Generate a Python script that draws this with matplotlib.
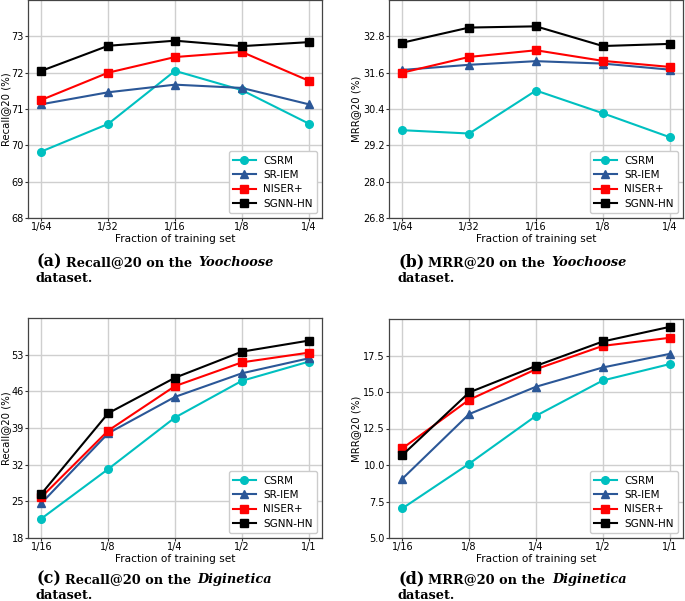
import matplotlib
matplotlib.use("Agg")
import matplotlib.pyplot as plt
import numpy as np

# ---- data ----
series_names = ["CSRM", "SR-IEM", "NISER+", "SGNN-HN"]
x_yoo = ["1/64", "1/32", "1/16", "1/8", "1/4"]
x_dig = ["1/16", "1/8", "1/4", "1/2", "1/1"]

yoo_recall = {
    "CSRM":    [69.83, 70.59, 72.05, 71.52, 70.60],
    "SR-IEM":  [71.13, 71.46, 71.67, 71.58, 71.13],
    "NISER+":  [71.25, 72.00, 72.43, 72.57, 71.78],
    "SGNN-HN": [72.05, 72.74, 72.88, 72.73, 72.84],
}
yoo_mrr = {
    "CSRM":    [29.70, 29.59, 31.01, 30.26, 29.47],
    "SR-IEM":  [31.69, 31.86, 31.98, 31.90, 31.70],
    "NISER+":  [31.60, 32.12, 32.34, 31.99, 31.79],
    "SGNN-HN": [32.59, 33.09, 33.13, 32.48, 32.55],
}
dig_recall = {
    "CSRM":    [21.70, 31.16, 41.00, 48.00, 51.66],
    "SR-IEM":  [24.64, 37.99, 44.94, 49.44, 52.30],
    "NISER+":  [25.80, 38.50, 47.00, 51.53, 53.38],
    "SGNN-HN": [26.43, 41.82, 48.60, 53.57, 55.68],
}
dig_mrr = {
    "CSRM":    [7.03, 10.09, 13.37, 15.79, 16.91],
    "SR-IEM":  [9.06, 13.49, 15.36, 16.68, 17.61],
    "NISER+":  [11.14, 14.47, 16.56, 18.16, 18.71],
    "SGNN-HN": [10.68, 14.97, 16.79, 18.46, 19.46],
}

yticks_a = [68, 69, 70, 71, 72, 73]
yticks_b = [26.8, 28.0, 29.2, 30.4, 31.6, 32.8]
yticks_c = [18, 25, 32, 39, 46, 53]
yticks_d = [5.0, 7.5, 10.0, 12.5, 15.0, 17.5]

styles = {
    "CSRM":    dict(color="#00c0c0", marker="o"),
    "SR-IEM":  dict(color="#2b5797", marker="^"),
    "NISER+":  dict(color="#ff0000", marker="s"),
    "SGNN-HN": dict(color="#000000", marker="s"),
}

W, H = 685, 601
fig = plt.figure(figsize=(W / 100, H / 100), dpi=100)

def px_axes(l, t, r, b):
    return fig.add_axes([l / W, 1 - b / H, (r - l) / W, (b - t) / H])

panels = [
    (px_axes(28, 0, 322, 218), x_yoo, yoo_recall, yticks_a, (68, 74), "Recall@20 (%)", "%d", 11.5),
    (px_axes(389, 0, 683, 218), x_yoo, yoo_mrr, yticks_b, (26.8, 34.0), "MRR@20 (%)", "%.1f", 361),
    (px_axes(28, 318, 322, 538), x_dig, dig_recall, yticks_c, (18, 60), "Recall@20 (%)", "%d", 11.5),
    (px_axes(389, 319, 683, 538), x_dig, dig_mrr, yticks_d, (5.0, 20.0), "MRR@20 (%)", "%.1f", 361),
]

for ax, xl, data, yt, ylim, ylab, fmt, ylx in panels:
    xs = np.arange(len(xl))
    for name in series_names:
        st = styles[name]
        ax.plot(xs, data[name], color=st["color"], marker=st["marker"],
                lw=1.5, ms=5.5, label=name, zorder=3)
    ax.set_xticks(xs)
    ax.set_xticklabels(xl)
    ax.set_yticks(yt)
    ax.set_yticklabels([fmt % v for v in yt])
    ax.set_ylim(*ylim)
    ax.set_xlim(-0.2, len(xl) - 0.8)
    ax.grid(True, color="#cfcfcf", lw=1.0)
    ax.set_axisbelow(True)
    ax.tick_params(labelsize=7.0, length=2.0, pad=1.0, color="#333333")
    for s in ax.spines.values():
        s.set_color("#444444")
        s.set_linewidth(0.9)
    ax.set_xlabel("Fraction of training set", fontsize=7.6, labelpad=1.0)
    ax.set_ylabel(ylab, fontsize=7.3)
    l_px = ax.get_position().x0 * W
    w_px = ax.get_position().width * W
    ax.yaxis.set_label_coords((ylx - l_px) / w_px, 0.5)
    ax.legend(loc="lower right", fontsize=7.5, frameon=True, fancybox=True,
              edgecolor="#cccccc", framealpha=1.0, handlelength=2.2,
              borderpad=0.4, labelspacing=0.42, handletextpad=0.7,
              borderaxespad=0.5)

captions = [
    ("(a)", "Recall@20 on the ", "Yoochoose", 36, 266),
    ("(b)", "MRR@20 on the ", "Yoochoose", 398, 266),
    ("(c)", "Recall@20 on the ", "Diginetica", 36, 583),
    ("(d)", "MRR@20 on the ", "Diginetica", 398, 583),
]
fig.canvas.draw()
renderer = fig.canvas.get_renderer()
serif = ["DejaVu Serif"]
for lab, main, ital, x0, y0 in captions:
    t1 = fig.text(x0 / W, 1 - y0 / H, lab, fontsize=11.5, fontweight="bold",
                  family=serif, va="baseline")
    bb = t1.get_window_extent(renderer)
    x1 = bb.x1 + 4
    t2 = fig.text(x1 / W, 1 - y0 / H, main, fontsize=9.3, fontweight="bold",
                  family=serif, va="baseline")
    bb2 = t2.get_window_extent(renderer)
    fig.text((bb2.x1 + 2) / W, 1 - y0 / H, ital, fontsize=9.3, fontweight="bold",
             style="italic", family=serif, va="baseline")
    fig.text(x0 / W, 1 - (y0 + 16) / H, "dataset.", fontsize=9.3, fontweight="bold",
             family=serif, va="baseline")

fig.savefig("out.png", dpi=100)
